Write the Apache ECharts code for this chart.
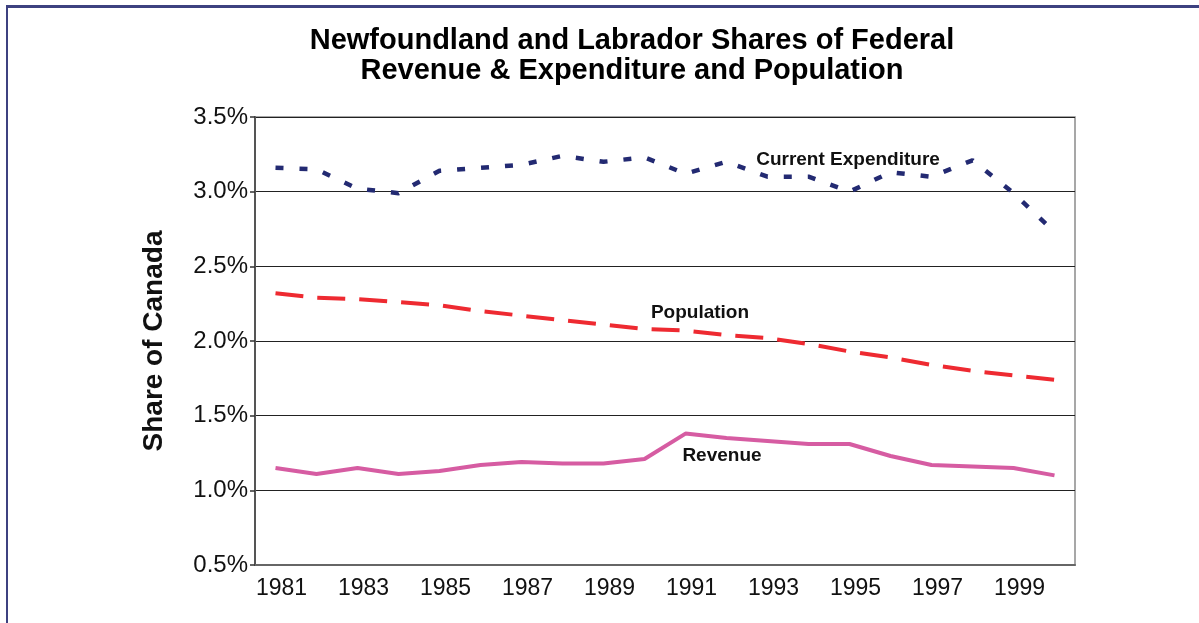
<!DOCTYPE html>
<html>
<head>
<meta charset="utf-8">
<title>Newfoundland and Labrador Shares</title>
<script src="https://cdn.jsdelivr.net/npm/echarts@6/dist/echarts.min.js"></script>
<style>
  html, body { margin: 0; padding: 0; background: #fff; overflow: hidden; }
  #chart { position: absolute; left: 0; top: 0; width: 1199px; height: 623px; }
  #frame { position: absolute; left: 6px; top: 5px; width: 1300px; height: 700px;
           border-left: 2px solid #3d4180; border-top: 3px solid #3d4180; pointer-events: none; }
</style>
</head>
<body>
<div id="chart"></div>
<div id="frame"></div>
<script>
// years on the category axis
var years = ['1981', '1982', '1983', '1984', '1985', '1986', '1987', '1988', '1989', '1990',
  '1991', '1992', '1993', '1994', '1995', '1996', '1997', '1998', '1999', '2000']

// shares of Canada, percent
var expenditure = [3.16, 3.15, 3.02, 2.99, 3.14, 3.16, 3.18, 3.24, 3.20, 3.23,
  3.12, 3.20, 3.10, 3.10, 3.00, 3.13, 3.10, 3.21, 2.99, 2.73]
var population = [2.32, 2.29, 2.28, 2.26, 2.24, 2.20, 2.17, 2.14, 2.11, 2.08,
  2.07, 2.04, 2.02, 1.98, 1.93, 1.89, 1.84, 1.80, 1.77, 1.74]
var revenue = [1.15, 1.11, 1.15, 1.11, 1.13, 1.17, 1.19, 1.18, 1.18, 1.21,
  1.38, 1.35, 1.33, 1.31, 1.31, 1.23, 1.17, 1.16, 1.15, 1.10]

var chart = echarts.init(document.getElementById('chart'))

var labelFont = 'Liberation Sans, Arial, sans-serif'

chart.setOption({
  animation: false,
  backgroundColor: '#fff',
  grid: {
    left: 255,
    right: 124,
    top: 117,
    bottom: 58,
    show: true,
    borderColor: '#8a8a8a',
    borderWidth: 1.5
  },
  graphic: [
    {
      type: 'text',
      x: 632,
      y: 56,
      style: {
        text: 'Newfoundland and Labrador Shares of Federal\nRevenue & Expenditure and Population',
        font: 'bold 29px ' + labelFont,
        lineHeight: 30,
        fill: '#000',
        align: 'center',
        verticalAlign: 'middle'
      }
    },
    {
      type: 'text', x: 848, y: 160,
      style: { text: 'Current Expenditure', font: 'bold 19px ' + labelFont, fill: '#111', align: 'center', verticalAlign: 'middle' }
    },
    {
      type: 'text', x: 700, y: 313,
      style: { text: 'Population', font: 'bold 19px ' + labelFont, fill: '#111', align: 'center', verticalAlign: 'middle' }
    },
    {
      type: 'text', x: 722, y: 456,
      style: { text: 'Revenue', font: 'bold 19px ' + labelFont, fill: '#111', align: 'center', verticalAlign: 'middle' }
    }
  ],
  xAxis: {
    type: 'category',
    data: years,
    boundaryGap: true,
    axisLine: { lineStyle: { color: '#666', width: 2 } },
    axisTick: { interval: 0, length: 6, lineStyle: { color: '#333', width: 1.5 } },
    axisLabel: {
      interval: 1,
      color: '#111',
      fontSize: 23,
      fontFamily: labelFont,
      margin: 12,
      padding: [0, 0, 0, 12]
    },
    splitLine: { show: false }
  },
  yAxis: {
    type: 'value',
    min: 0.5,
    max: 3.5,
    interval: 0.5,
    name: 'Share of Canada',
    nameLocation: 'middle',
    nameRotate: 90,
    nameGap: 87,
    nameTextStyle: { fontSize: 28, fontWeight: 'bold', color: '#111', fontFamily: labelFont },
    axisLine: { show: true, lineStyle: { color: '#555', width: 2 } },
    axisTick: { show: true, length: 5, lineStyle: { color: '#333', width: 1.5 } },
    axisLabel: {
      color: '#111',
      fontSize: 24,
      fontFamily: labelFont,
      margin: 7,
      formatter: function (v) { return v.toFixed(1) + '%' }
    },
    splitLine: { lineStyle: { color: '#222', width: 1.2 } }
  },
  series: [
    {
      name: 'Current Expenditure',
      type: 'line',
      data: expenditure,
      symbol: 'none',
      lineStyle: { color: '#232a72', width: 4.5, type: [8, 16], cap: 'butt' }
    },
    {
      name: 'Population',
      type: 'line',
      data: population,
      symbol: 'none',
      lineStyle: { color: '#ee2a31', width: 4, type: [28, 14], cap: 'butt' }
    },
    {
      name: 'Revenue',
      type: 'line',
      data: revenue,
      symbol: 'none',
      lineStyle: { color: '#d65ca2', width: 4 }
    }
  ]
})
</script>
</body>
</html>
